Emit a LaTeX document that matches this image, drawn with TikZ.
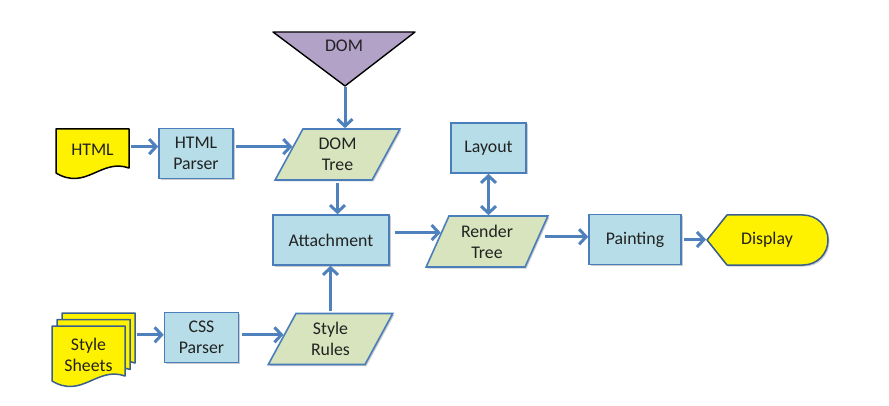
\documentclass[tikz,border=0pt]{standalone}
\usepackage{fontspec}
\setmainfont{Carlito}
\usetikzlibrary{shapes.geometric,arrows.meta,calc,shadows}
\definecolor{boxfill}{HTML}{B7DEE8}
\definecolor{boxline}{HTML}{4A7EBB}
\definecolor{greenfill}{HTML}{D7E4BD}
\definecolor{arrowcol}{HTML}{4F81BD}
\definecolor{purplefill}{HTML}{B3A2C7}
\definecolor{docline}{HTML}{3A5F8C}
\definecolor{txt}{HTML}{222222}
\begin{document}
\begin{tikzpicture}[x=1pt,y=-1pt,
  every node/.style={font=\fontsize{17.8}{21}\selectfont, text=txt, align=center},
  softshadow/.style={drop shadow={shadow xshift=1.5pt, shadow yshift=-1.5pt, opacity=0.2, fill=black}},
  procbox/.style={draw=boxline, fill=boxfill, line width=1.6pt, inner sep=0pt,
    minimum width=#1, minimum height=50, softshadow},
  databox/.style={draw=boxline, fill=greenfill, line width=1.6pt, trapezium,
    trapezium left angle=65, trapezium right angle=115, trapezium stretches=true,
    minimum width=#1, minimum height=51, inner sep=0pt, softshadow},
  docshape/.style={fill=yellow, line width=1.5pt, line join=round},
  arr/.style={draw=arrowcol, line width=3pt, -{Straight Barb[length=7pt,width=15pt]}},
  dblarr/.style={draw=arrowcol, line width=3pt, {Straight Barb[length=7pt,width=15pt]}-{Straight Barb[length=7pt,width=15pt]}}
]
\useasboundingbox (0,0) rectangle (889,406);

% DOM triangle
\path[draw=black, fill=purplefill, line width=1.4pt, line join=round] (273,32) -- (415,32) -- (345,86) -- cycle;
\node (dom) at (344,46) {DOM};
\coordinate (domtip) at (345,87);

% HTML document
\path[docshape, draw=black] (56,129) -- (129,129) -- (129,168)
  .. controls (101,158) and (86,191) .. (56,173) -- cycle;
\node[minimum width=73, minimum height=40, inner sep=0pt] (html) at (92.5,150) {HTML};

% Style sheets (stack of three)
\foreach \sx/\sy in {62/313, 57/319.5, 52/326}{
  \path[docshape, draw=docline, shift={(\sx,\sy)}] (0,0) -- (73,0) -- (73,50)
    .. controls (45,40) and (30,73) .. (0,55) -- cycle;
}
\node[minimum width=73, minimum height=50, inner sep=0pt] (sheets) at (88.5,355) {Style\\Sheets};

% Process boxes
\node[procbox=74] (parser) at (196,153.5) {HTML\\Parser};
\node[procbox=74] (css) at (201.5,337.5) {CSS\\Parser};
\node[procbox=116] (attach) at (331,240) {Attachment};
\node[procbox=75] (layout) at (488.5,148) {Layout};
\node[procbox=92] (paint) at (635,239.5) {Painting};

% Data parallelograms
\node[databox=125] (domtree) at (337.5,154.5) {DOM\\Tree};
\node[databox=122] (render) at (487,241.5) {Render\\Tree};
\node[databox=125] (rules) at (330.5,339) {Style\\Rules};

% Display terminator
\path[draw=docline, fill=yellow, line width=1.5pt, line join=round, softshadow]
  (707,240) -- (727,215) -- (803,215)
  .. controls (817,215) and (828,226) .. (828,240)
  .. controls (828,254) and (817,265) .. (803,265) -- (727,265) -- cycle;
\node (display) at (767,240) {Display};
\coordinate (disptip) at (706,239.5);

% helper points on slanted edges
\coordinate (pDT) at ($(domtree.top left corner)!0.35!(domtree.bottom left corner)$);
\coordinate (pRT) at ($(render.top left corner)!0.33!(render.bottom left corner)$);
\coordinate (pRR) at ($(render.top right corner)!0.41!(render.bottom right corner)$);
\coordinate (pSR) at ($(rules.top left corner)!0.42!(rules.bottom left corner)$);

% Connectors
\draw[arr] (domtip) -- (domtip |- domtree.north);
\draw[arr, shorten <=2pt] (html.east |- pDT) -- (parser.west |- pDT);
\draw[arr, shorten <=2pt] (parser.east |- pDT) -- (pDT);
\draw[arr, shorten <=2pt] (domtree.center |- domtree.south) -- (domtree.center |- attach.north);
\draw[arr, shorten <=2pt] (rules.center |- rules.north) -- (rules.center |- attach.south);
\draw[arr, shorten <=12pt] (sheets.east |- pSR) -- (css.west |- pSR);
\draw[arr, shorten <=3pt] (css.east |- pSR) -- (pSR);
\draw[arr, shorten <=5pt] (attach.east |- pRT) -- (pRT);
\draw[dblarr] (layout.south) -- (layout.south |- render.north);
\draw[arr, shorten <=6pt] (pRR) -- (paint.west |- pRR);
\draw[arr, shorten <=2pt] (paint.east) -- (disptip);
\end{tikzpicture}
\end{document}
